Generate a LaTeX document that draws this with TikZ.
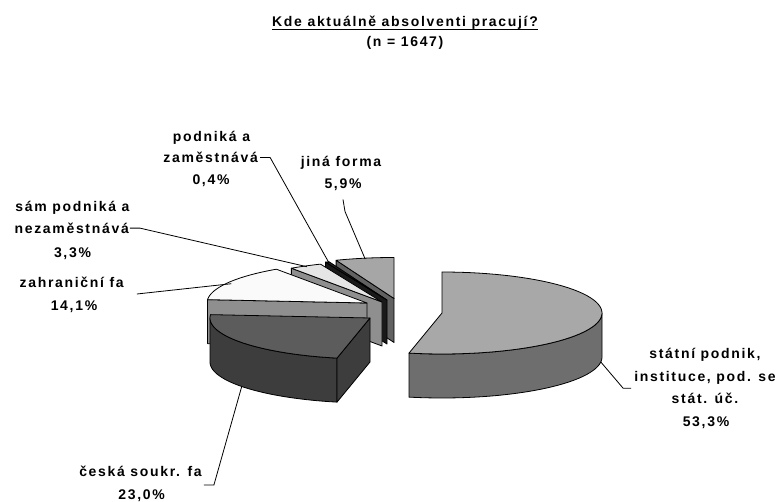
\documentclass[tikz,border=0pt]{standalone}
\usepackage{fontspec}
\newfontfamily\lblfont{Liberation Sans}[LetterSpace=12]
\definecolor{stTop}{gray}{0.66}
\definecolor{stSide}{gray}{0.43}
\definecolor{ckTop}{gray}{0.36}
\definecolor{ckSide}{gray}{0.24}
\definecolor{zfTop}{gray}{0.98}
\definecolor{zfSide}{gray}{0.56}
\definecolor{smTop}{gray}{0.90}
\definecolor{smSide}{gray}{0.56}
\definecolor{pzTop}{gray}{0.12}
\definecolor{pzSide}{gray}{0.10}
\definecolor{jfTop}{gray}{0.65}
\definecolor{jfSide}{gray}{0.38}
\def\pieA{160}
\def\pieB{41}
\def\pieH{44}
\newcommand{\slicetop}[5]{%
  \filldraw[fill=#5, slice] (#1,#2) -- plot[domain=#3:#4, samples=60] ({#1+\pieA*sin(\x)},{#2-\pieB*cos(\x)}) -- cycle;}
\newcommand{\slicewall}[5]{%
  \filldraw[fill=#5, slice] plot[domain=#3:#4, samples=60] ({#1+\pieA*sin(\x)},{#2-\pieB*cos(\x)}) -- plot[domain=#4:#3, samples=60] ({#1+\pieA*sin(\x)},{#2-\pieB*cos(\x)+\pieH}) -- cycle;}
\newcommand{\slicecut}[4]{%
  \filldraw[fill=#4, slice] (#1,#2) -- ({#1+\pieA*sin(#3)},{#2-\pieB*cos(#3)}) -- ({#1+\pieA*sin(#3)},{#2-\pieB*cos(#3)+\pieH}) -- (#1,{#2+\pieH}) -- cycle;}
\tikzset{
  slice/.style={draw=black, line width=0.8pt, line join=round},
  lbl/.style={font=\lblfont\bfseries\fontsize{14}{16}\selectfont, inner sep=0pt, anchor=base, text=black},
  leader/.style={draw=black, line width=0.8pt}
}
\begin{document}
\begin{tikzpicture}[x=1pt,y=-1pt]
\useasboundingbox (0,0) rectangle (777,502);
\fill[white] (0,0) rectangle (777,502);

% slices, back to front
% jina forma
\slicecut{394}{298.5}{338.8}{jfSide}
\slicetop{394}{298.5}{338.8}{360}{jfTop}
% podnika a zamestnava
\slicecut{387}{300}{337.4}{pzSide}
\slicetop{387}{300}{337.4}{338.8}{pzTop}
% sam podnika a nezamestnava
\slicecut{382}{302}{325.5}{smSide}
\slicetop{382}{302}{325.5}{337.4}{smTop}
% zahranicni fa
\slicecut{367}{303}{274.7}{zfSide}
\slicetop{367}{303}{274.7}{325.5}{zfTop}
% ceska soukr. fa
\slicewall{370}{318}{191.9}{270}{ckSide}
\slicecut{370}{318}{191.9}{ckSide}
\slicetop{370}{318}{191.9}{274.7}{ckTop}
% statni podnik
\slicewall{442}{313}{90}{191.9}{stSide}
\slicetop{442}{313}{0}{191.9}{stTop}

% points on slices
\coordinate (pz_pt) at ({387+0.97*\pieA*sin(338.1)},{300-0.97*\pieB*cos(338.1)});
\coordinate (jf_pt) at ({394+0.98*\pieA*sin(349.4)},{298.5-0.98*\pieB*cos(349.4)});
\coordinate (sm_pt) at ({382+0.98*\pieA*sin(331.4)},{302-0.98*\pieB*cos(331.4)});
\coordinate (zf_pt) at ({367+0.97*\pieA*sin(299)},{303-0.97*\pieB*cos(299)});
\coordinate (ck_pt) at ({370+\pieA*sin(233.3)},{318-\pieB*cos(233.3)+\pieH});
\coordinate (st_pt) at ({442+\pieA*sin(97)},{313-\pieB*cos(97)+\pieH});

% title
\node[lbl] (title) at (405,26.5) {Kde aktuálně absolventi pracují?};
\draw[line width=1.2pt] ([yshift=-3pt]title.base west) -- ([yshift=-3pt]title.base east);
\node[lbl] (nn) at (405,46.5) {(n = 1647)};

% labels
\node[lbl] (pz1) at (211.5,141.7) {podniká a};
\node[lbl] (pz2) at (210.7,162.7) {zaměstnává};
\node[lbl] (pz3) at (211,184.5) {0,4\%};

\node[lbl] (jf1) at (341,166.5) {jiná forma};
\node[lbl] (jf2) at (343,188.5) {5,9\%};

\node[lbl] (sm1) at (72.5,211.7) {sám podniká a};
\node[lbl] (sm2) at (71.7,233.3) {nezaměstnává};
\node[lbl] (sm3) at (72.5,258) {3,3\%};

\node[lbl] (zf1) at (71.7,288) {zahraniční fa};
\node[lbl] (zf2) at (74,311) {14,1\%};

\node[lbl] (ck1) at (140.5,476.5) {česká soukr. fa};
\node[lbl] (ck2) at (141.7,500) {23,0\%};

\node[lbl] (st1) at (705,358.3) {státní podnik,};
\node[lbl] (st2) at (705,381.7) {instituce, pod. se};
\node[lbl] (st3) at (705,403.5) {stát. úč.};
\node[lbl] (st4) at (706,426.5) {53,3\%};

% leaders
\draw[leader] ([xshift=2pt]pz2.east) -- ++(10,0) -- (pz_pt);
\draw[leader] ([yshift=-11pt]jf2.base) -- ++(2,12) -- (jf_pt);
\draw[leader] ([xshift=1pt]sm2.east) -- ++(10,0) -- (sm_pt);
\draw[leader] ([xshift=13pt,yshift=-6pt]zf1.base east) -- (zf_pt);
\draw[leader] ([xshift=2pt,yshift=-8.5pt]ck1.base east) -- ++(10,0) -- (ck_pt);
\draw[leader] ([xshift=-3pt,yshift=-6.5pt]st2.base west) -- ++(-8,0) -- (st_pt);
\end{tikzpicture}
\end{document}
